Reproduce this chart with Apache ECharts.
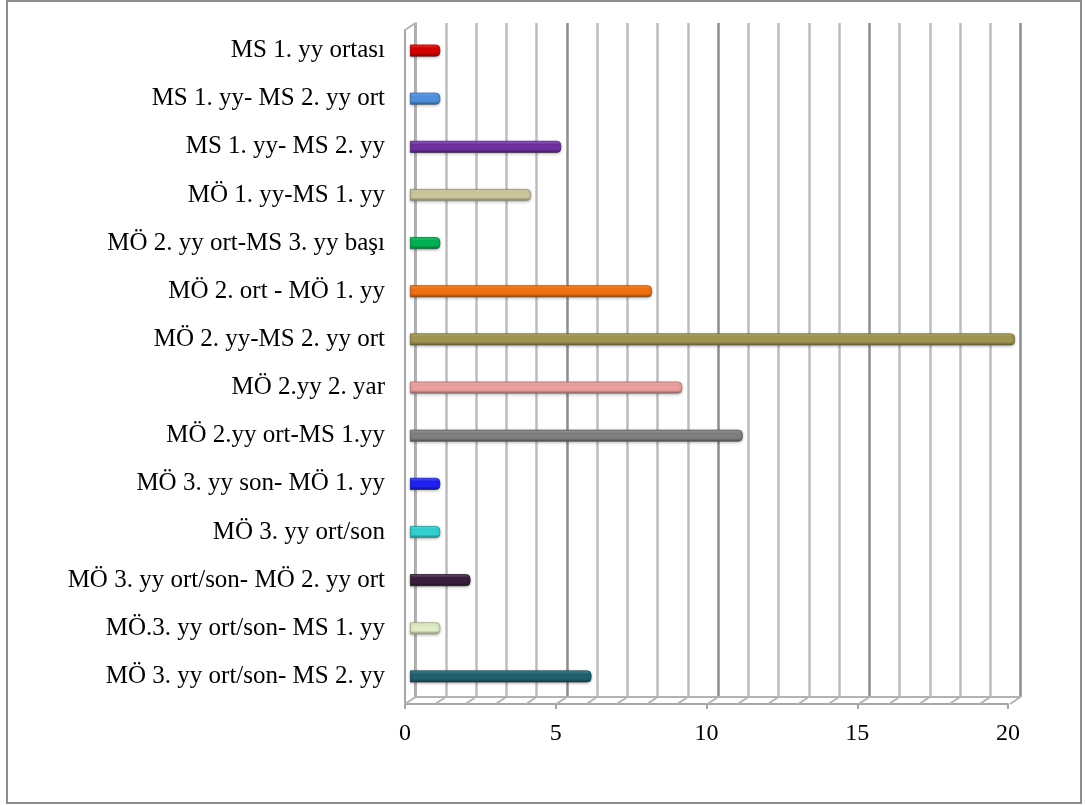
<!DOCTYPE html>
<html>
<head>
<meta charset="utf-8">
<script src="https://cdn.jsdelivr.net/npm/echarts@6/dist/echarts.min.js"></script>
<style>
html,body{margin:0;padding:0;background:#fff;}
#chart{width:1085px;height:805px;}
</style>
</head>
<body>
<div id="chart"></div>
<script>
// Categories listed top to bottom
var categories = [
  'MS 1. yy ortası',
  'MS 1. yy- MS 2. yy ort',
  'MS 1. yy- MS 2. yy',
  'MÖ 1. yy-MS 1. yy',
  'MÖ 2. yy ort-MS 3. yy başı',
  'MÖ 2. ort - MÖ 1. yy',
  'MÖ 2. yy-MS 2. yy ort',
  'MÖ 2.yy 2. yar',
  'MÖ 2.yy ort-MS 1.yy',
  'MÖ 3. yy son- MÖ 1. yy',
  'MÖ 3. yy ort/son',
  'MÖ 3. yy ort/son- MÖ 2. yy ort',
  'MÖ.3. yy ort/son- MS 1. yy',
  'MÖ 3. yy ort/son- MS 2. yy'
];
var values = [1, 1, 5, 4, 1, 8, 20, 9, 11, 1, 1, 2, 1, 6];
var barColors = [
  '#d40000', '#4f8fdc', '#7030a0', '#cdc59c', '#00b050', '#f07010', '#a09450',
  '#eb9e9e', '#7f7f7f', '#2020f0', '#30d0d0', '#3a1f3c', '#e0ecc4', '#1f5f6e'
];
var axisMin = 0, axisMax = 20;
var gridTicks = [0,1,2,3,4,5,6,7,8,9,10,11,12,13,14,15,16,17,18,19,20];

function hexToRgb(h){h=h.replace('#','');return [parseInt(h.substr(0,2),16),parseInt(h.substr(2,2),16),parseInt(h.substr(4,2),16)];}
function mix(c, t, k){var a=hexToRgb(c);return 'rgb('+a.map(function(v,i){return Math.round(v+(t[i]-v)*k);}).join(',')+')';}
function shade(c,k){return mix(c,[0,0,0],k);}
function tint(c,k){return mix(c,[255,255,255],k);}

var barData = values.map(function(v,i){
  var c = barColors[i];
  return {
    value: v,
    itemStyle: {
      color: new echarts.graphic.LinearGradient(0,0,0,1,[
        {offset:0, color: tint(c,0.3)},
        {offset:0.3, color: c},
        {offset:0.7, color: c},
        {offset:1, color: shade(c,0.4)}
      ]),
      borderColor: shade(c,0.3),
      borderWidth: 0.8,
      borderRadius: [0,4,4,0],
      shadowColor: 'rgba(0,0,0,0.25)',
      shadowBlur: 3,
      shadowOffsetY: 1
    }
  };
});

var DX = -10.5, DY = 7;
var lineCol = '#b3b3b3';

var chart = echarts.init(document.getElementById('chart'), null, {renderer:'canvas'});
chart.setOption({
  animation: false,
  backgroundColor: '#fff',
  graphic: [{
    type:'rect', shape:{x:7,y:1,width:1074,height:802},
    style:{fill:'none', stroke:'#8d8d8d', lineWidth:2}, z:100
  }],
  grid: [
    {left:415.5, right:64.5, top:23, bottom:108, outerBoundsMode:'none', containLabel:false},
    {left:410, right:70, top:26.5, bottom:104.5, outerBoundsMode:'none', containLabel:false},
    {left:405, right:77, top:30, bottom:101, outerBoundsMode:'none', containLabel:false}
  ],
  xAxis: [
    {gridIndex:0, type:'value', min:axisMin, max:axisMax, interval:1,
     axisLabel:{show:false}, axisTick:{show:false},
     axisLine:{show:true, lineStyle:{color:lineCol, width:2}},
     splitLine:{show:true, lineStyle:{color:['#8c8c8c','#bdbdbd','#bdbdbd','#bdbdbd','#bdbdbd'], width:2.5}}},
    {gridIndex:1, type:'value', min:axisMin, max:axisMax, show:false},
    {gridIndex:2, type:'value', min:axisMin, max:axisMax, interval:5,
     axisLine:{show:true, lineStyle:{color:'#a6a6a6', width:2}},
     axisTick:{show:true, length:5, lineStyle:{color:'#a6a6a6', width:2}},
     axisLabel:{show:true, margin:18, fontFamily:'Liberation Serif', fontSize:24, color:'#000'},
     splitLine:{show:false}}
  ],
  yAxis: [
    {gridIndex:0, type:'value', min:0, max:1, axisLabel:{show:false}, axisTick:{show:false},
     axisLine:{show:true, lineStyle:{color:lineCol, width:2}}, splitLine:{show:false}},
    {gridIndex:1, type:'category', data:categories, inverse:true,
     axisLine:{show:false}, axisTick:{show:false},
     axisLabel:{margin:25, padding:[4,0,0,0], fontFamily:'Liberation Serif', fontSize:25, color:'#000'}},
    {gridIndex:2, type:'value', min:0, max:1, axisLabel:{show:false}, axisTick:{show:false},
     axisLine:{show:true, lineStyle:{color:'#a6a6a6', width:2}}, splitLine:{show:false}}
  ],
  series: [
    {
      type:'custom', xAxisIndex:0, yAxisIndex:0, silent:true, z:1,
      data: gridTicks.map(function(t){return [t,0];}).concat([[0,1]]),
      renderItem: function(params, api){
        var p = api.coord([api.value(0), api.value(1)]);
        return {type:'line', shape:{x1:p[0], y1:p[1], x2:p[0]+DX, y2:p[1]+DY},
                style:{stroke:lineCol, lineWidth:2}};
      }
    },
    {
      type:'bar', xAxisIndex:1, yAxisIndex:1, barWidth:12, z:5,
      data: barData
    }
  ]
});
</script>
</body>
</html>
